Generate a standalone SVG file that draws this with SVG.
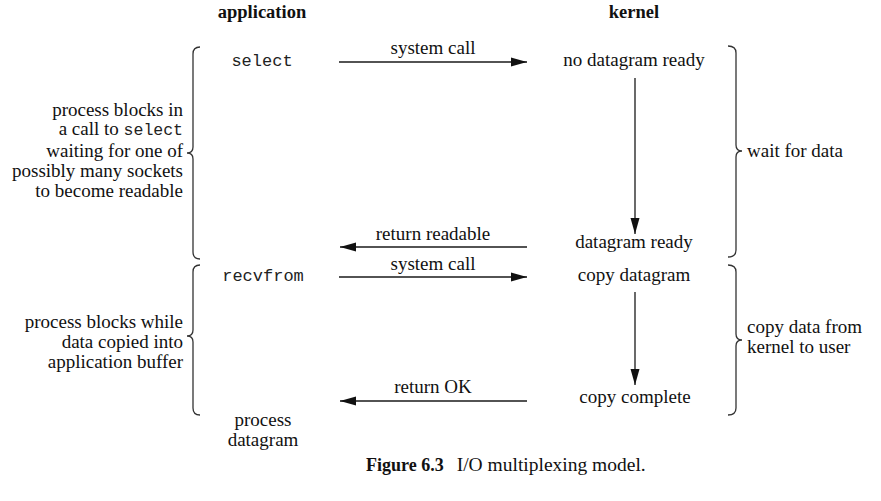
<svg xmlns="http://www.w3.org/2000/svg" width="881" height="501" viewBox="0 0 881 501">
<style>
text{font-family:"Liberation Serif","Times New Roman",serif;font-size:19px;fill:#111}
.hd{font-weight:bold;font-size:18.5px}
.mono{font-family:"Liberation Mono","Courier New",monospace;font-size:17px;fill:#222}
.mi{font-family:"Liberation Mono","Courier New",monospace;font-size:16.5px;fill:#222}
.c{text-anchor:middle}
.r{text-anchor:end}
.brace{fill:none;stroke:#333;stroke-width:1.3}
.line{fill:none;stroke:#1a1a1a;stroke-width:1.3}
.cap{font-size:19.5px}
.capb{font-weight:bold;font-size:18px}
</style>
<defs>
<marker id="ah" markerUnits="userSpaceOnUse" markerWidth="17" markerHeight="10" refX="16" refY="5" orient="auto">
<path d="M0,0.5 L16,5 L0,9.5 Z" fill="#111"/>
</marker>
</defs>
<rect width="881" height="501" fill="#fff"/>

<g id="headers">
<text class="hd c" x="262" y="18">application</text>
<text class="hd c" x="634" y="18">kernel</text>
</g>

<g id="app-select"><text class="mono c" x="262" y="66">select</text></g>
<g id="app-recvfrom"><text class="mono c" x="263" y="281">recvfrom</text></g>
<g id="app-process"><text class="c" x="263" y="426">process</text><text class="c" x="263" y="446">datagram</text></g>

<g id="k-nodgram"><text class="c" x="634" y="66">no datagram ready</text></g>
<g id="k-dgramready"><text class="c" x="634" y="248">datagram ready</text></g>
<g id="k-copy"><text class="c" x="634" y="281">copy datagram</text></g>
<g id="k-complete"><text class="c" x="635" y="403">copy complete</text></g>

<g id="note-left1">
<path class="brace" d="M200,47 Q193,47 193,54 L193,147 Q193,153 187,153 Q193,153 193,159 L193,252 Q193,259 200,259"/>
<text class="r" x="183" y="116">process blocks in</text>
<text class="r" x="183" y="135">a call to <tspan class="mi">select</tspan></text>
<text class="r" x="183" y="157">waiting for one of</text>
<text class="r" x="183" y="177">possibly many sockets</text>
<text class="r" x="183" y="197">to become readable</text>
</g>

<g id="note-left2">
<path class="brace" d="M200,265 Q193,265 193,272 L193,330 Q193,336 187,336 Q193,336 193,342 L193,408 Q193,415 200,415"/>
<text class="r" x="183" y="328">process blocks while</text>
<text class="r" x="183" y="348">data copied into</text>
<text class="r" x="183" y="368">application buffer</text>
</g>

<g id="note-right1">
<path class="brace" d="M728,46 Q736,46 736,53 L736,145 Q736,151 742,151 Q736,151 736,157 L736,250 Q736,257 728,257"/>
<text x="747" y="157">wait for data</text>
</g>

<g id="note-right2">
<path class="brace" d="M728,265 Q736,265 736,272 L736,334 Q736,340 742,340 Q736,340 736,346 L736,408 Q736,415 728,415"/>
<text x="747" y="333">copy data from</text>
<text x="747" y="353">kernel to user</text>
</g>

<g id="connectors">
<line class="line" x1="339" y1="62" x2="527" y2="62" marker-end="url(#ah)"/>
<text class="c" x="433" y="54">system call</text>
<line class="line" x1="635" y1="78" x2="635" y2="234" marker-end="url(#ah)"/>
<line class="line" x1="527" y1="247" x2="340" y2="247" marker-end="url(#ah)"/>
<text class="c" x="433" y="240">return readable</text>
<line class="line" x1="339" y1="277" x2="527" y2="277" marker-end="url(#ah)"/>
<text class="c" x="433" y="270">system call</text>
<line class="line" x1="635" y1="292" x2="635" y2="385" marker-end="url(#ah)"/>
<line class="line" x1="527" y1="401" x2="340" y2="401" marker-end="url(#ah)"/>
<text class="c" x="433" y="393">return OK</text>
</g>

<g id="caption">
<text x="366" y="471"><tspan class="capb">Figure 6.3</tspan><tspan class="cap" dx="13">I/O multiplexing model.</tspan></text>
</g>
</svg>
